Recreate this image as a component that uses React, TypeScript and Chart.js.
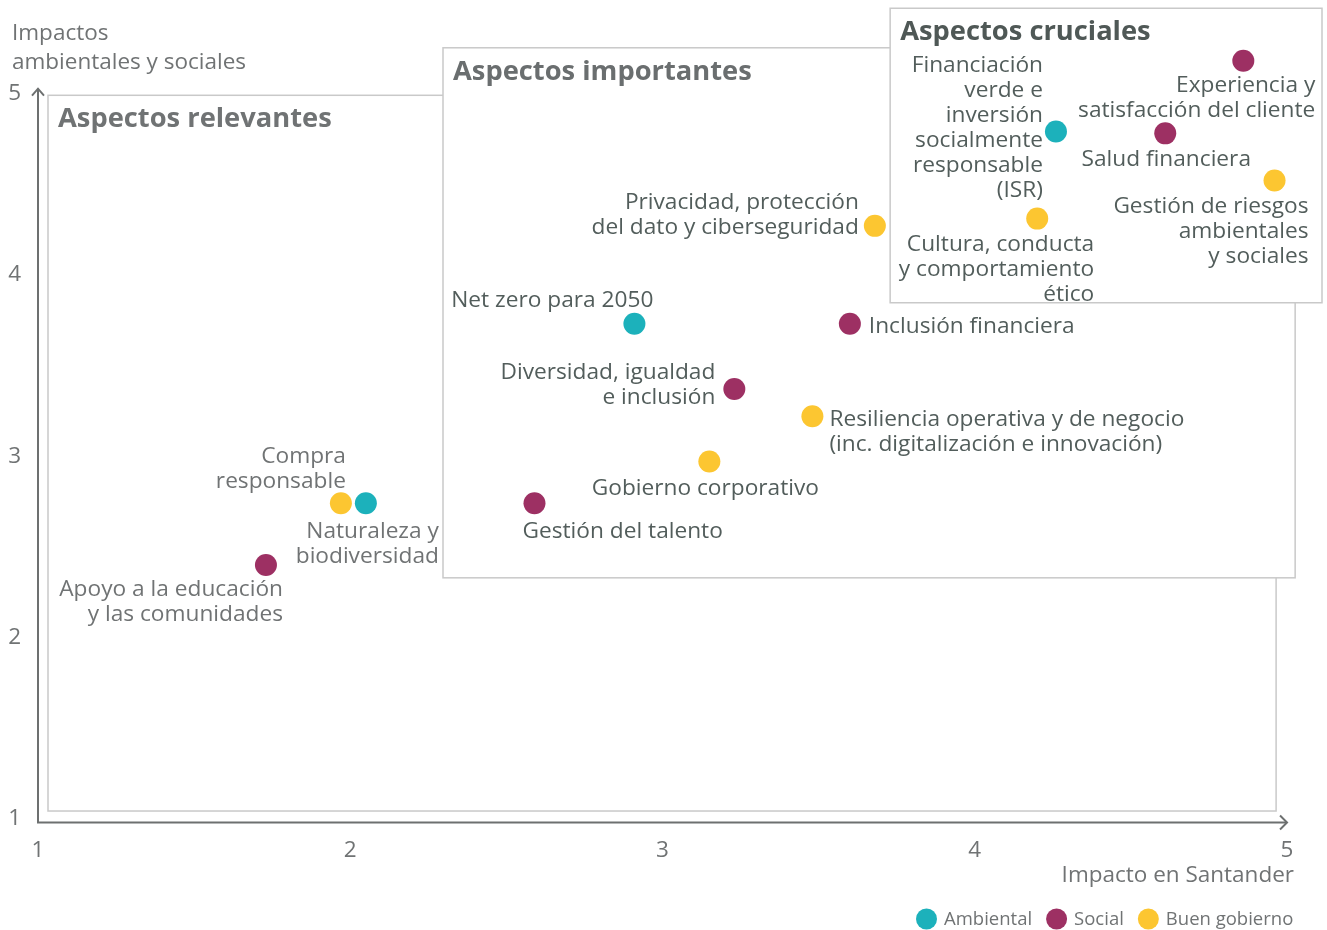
import React, { useEffect, useRef } from "react";
import { Chart, registerables } from "chart.js";

Chart.register(...registerables);

// ---------- DATA ----------
const topics: string[] = [
  "Experiencia y\nsatisfacción del cliente",
  "Salud financiera",
  "Gestión de riesgos\nambientales\ny sociales",
  "Financiación\nverde e\ninversión\nsocialmente\nresponsable\n(ISR)",
  "Cultura, conducta\ny comportamiento\nético",
  "Privacidad, protección\ndel dato y ciberseguridad",
  "Net zero para 2050",
  "Inclusión financiera",
  "Diversidad, igualdad\ne inclusión",
  "Resiliencia operativa y de negocio\n(inc. digitalización e innovación)",
  "Gobierno corporativo",
  "Gestión del talento",
  "Compra\nresponsable",
  "Naturaleza y\nbiodiversidad",
  "Apoyo a la educación\ny las comunidades",
];
const impactoSantander: number[] = [4.86, 4.61, 4.96, 4.26, 4.2, 3.68, 2.91, 3.6, 3.23, 3.48, 3.15, 2.59, 1.97, 2.05, 1.73];
const impactosAmbientalesSociales: number[] = [5.17, 4.77, 4.51, 4.78, 4.3, 4.26, 3.72, 3.72, 3.36, 3.21, 2.96, 2.73, 2.73, 2.73, 2.39];
const dimension: string[] = [
  "Social", "Social", "Buen gobierno", "Ambiental", "Buen gobierno", "Buen gobierno",
  "Ambiental", "Social", "Social", "Buen gobierno", "Buen gobierno", "Social",
  "Buen gobierno", "Ambiental", "Social",
];
const dimensions: string[] = ["Ambiental", "Social", "Buen gobierno"];
const xTicks: number[] = [1, 2, 3, 4, 5];
const yTicks: number[] = [1, 2, 3, 4, 5];
const xAxisTitle = "Impacto en Santander";
const yAxisTitle = ["Impactos", "ambientales y sociales"];

// zones: [x0, x1, y0, y1] in data units
const zoneNames: string[] = ["Aspectos relevantes", "Aspectos importantes", "Aspectos cruciales"];
const zoneX0: number[] = [1.032, 2.297, 3.729];
const zoneX1: number[] = [4.965, 5.026, 5.112];
const zoneY0: number[] = [1.033, 2.319, 3.836];
const zoneY1: number[] = [4.98, 5.242, 5.46];

// ---------- STYLE / LAYOUT ----------
const FONT = "'Open Sans', 'Noto Sans', sans-serif";
const TEXT_DY = 2;
const colors: Record<string, string> = {
  Ambiental: "#1cb1bb",
  Social: "#9d3063",
  "Buen gobierno": "#fcc631",
};
const zoneTitleColors = ["#707374", "#6a6e6f", "#4f5856"];
const LIGHT = "#707374";
const DARK = "#525d5b";
// per label: dx, dy (px of first line center), align, tone
const labelLayout: { dx: number; dy: number; align: CanvasTextAlign; dark: boolean }[] = [
  { dx: 72, dy: 23, align: "right", dark: true },
  { dx: 1, dy: 24, align: "center", dark: true },
  { dx: 34, dy: 24, align: "right", dark: true },
  { dx: -13, dy: -68, align: "right", dark: true },
  { dx: 57, dy: 24, align: "right", dark: true },
  { dx: -16, dy: -25, align: "right", dark: true },
  { dx: 19, dy: -25, align: "right", dark: true },
  { dx: 19, dy: 1, align: "left", dark: true },
  { dx: -19, dy: -19, align: "right", dark: true },
  { dx: 17, dy: 1, align: "left", dark: true },
  { dx: -4, dy: 25, align: "center", dark: true },
  { dx: -12, dy: 26, align: "left", dark: true },
  { dx: 5, dy: -49, align: "right", dark: false },
  { dx: 73, dy: 26, align: "right", dark: false },
  { dx: 17, dy: 23, align: "right", dark: false },
];

const decorPlugin = {
  id: "decor",
  beforeDatasetsDraw(chart: any) {
    const ctx: CanvasRenderingContext2D = chart.ctx;
    const xs = chart.scales.x;
    const ys = chart.scales.y;
    ctx.save();
    // zones
    for (let i = 0; i < zoneNames.length; i++) {
      const l = xs.getPixelForValue(zoneX0[i]);
      const r = xs.getPixelForValue(zoneX1[i]);
      const t = ys.getPixelForValue(zoneY1[i]);
      const b = ys.getPixelForValue(zoneY0[i]);
      ctx.fillStyle = "#ffffff";
      ctx.fillRect(l, t, r - l, b - t);
      ctx.strokeStyle = "#c9c9c9";
      ctx.lineWidth = 1.5;
      ctx.strokeRect(l, t, r - l, b - t);
      ctx.fillStyle = zoneTitleColors[i];
      ctx.font = `bold 27.3px ${FONT}`;
      ctx.textAlign = "left";
      ctx.textBaseline = "middle";
      ctx.fillText(zoneNames[i], l + 10, t + 22 + TEXT_DY);
    }
    // axes
    const ox = xs.getPixelForValue(1);
    const oy = ys.getPixelForValue(0.97);
    const xEnd = xs.getPixelForValue(5);
    const yEnd = ys.getPixelForValue(5) - 3;
    ctx.strokeStyle = "#6d7070";
    ctx.lineWidth = 2;
    ctx.beginPath();
    ctx.moveTo(ox, yEnd);
    ctx.lineTo(ox, oy);
    ctx.lineTo(xEnd, oy);
    ctx.stroke();
    ctx.beginPath();
    ctx.moveTo(ox - 6, yEnd + 7);
    ctx.lineTo(ox, yEnd);
    ctx.lineTo(ox + 6, yEnd + 7);
    ctx.moveTo(xEnd - 7, oy - 7);
    ctx.lineTo(xEnd, oy);
    ctx.lineTo(xEnd - 7, oy + 7);
    ctx.stroke();
    // ticks
    ctx.fillStyle = "#707374";
    ctx.font = `22.5px ${FONT}`;
    ctx.textBaseline = "middle";
    ctx.textAlign = "center";
    for (const v of xTicks) ctx.fillText(String(v), xs.getPixelForValue(v), oy + 26 + TEXT_DY);
    ctx.textAlign = "right";
    for (const v of yTicks) ctx.fillText(String(v), 21, ys.getPixelForValue(v) + TEXT_DY);
    // axis titles
    ctx.textAlign = "left";
    ctx.fillText(yAxisTitle[0], 12, 32 + TEXT_DY);
    ctx.fillText(yAxisTitle[1], 12, 61 + TEXT_DY);
    ctx.textAlign = "right";
    ctx.fillText(xAxisTitle, 1294, oy + 51 + TEXT_DY);
    ctx.restore();
  },
  afterDatasetsDraw(chart: any) {
    const ctx: CanvasRenderingContext2D = chart.ctx;
    const xs = chart.scales.x;
    const ys = chart.scales.y;
    ctx.save();
    ctx.font = `22.7px ${FONT}`;
    ctx.textBaseline = "middle";
    for (let i = 0; i < topics.length; i++) {
      const lay = labelLayout[i];
      const px = xs.getPixelForValue(impactoSantander[i]);
      const py = ys.getPixelForValue(impactosAmbientalesSociales[i]);
      ctx.fillStyle = lay.dark ? DARK : LIGHT;
      ctx.textAlign = lay.align;
      topics[i].split("\n").forEach((line, k) => {
        ctx.fillText(line, px + lay.dx, py + lay.dy + k * 25 + TEXT_DY);
      });
    }
    // legend
    ctx.font = `18.5px ${FONT}`;
    ctx.textAlign = "left";
    let lx = 916;
    const ly = 919;
    for (const d of dimensions) {
      ctx.fillStyle = colors[d];
      ctx.beginPath();
      ctx.arc(lx + 10.5, ly, 10.5, 0, Math.PI * 2);
      ctx.fill();
      ctx.fillStyle = LIGHT;
      ctx.fillText(d, lx + 28, ly + 1);
      lx += 28 + ctx.measureText(d).width + 14;
    }
    ctx.restore();
  },
};

export default function App() {
  const ref = useRef<HTMLCanvasElement | null>(null);
  useEffect(() => {
    if (!ref.current) return;
    const datasets = dimensions.map((d) => ({
      label: d,
      data: topics
        .map((_, i) => ({ x: impactoSantander[i], y: impactosAmbientalesSociales[i], d: dimension[i] }))
        .filter((p) => p.d === d)
        .map((p) => ({ x: p.x, y: p.y })),
      backgroundColor: colors[d],
      borderWidth: 0,
      pointRadius: 11,
      pointHoverRadius: 11,
      clip: false as any,
    }));
    const chart = new Chart(ref.current, {
      type: "scatter",
      data: { datasets },
      options: {
        responsive: false,
        animation: false,
        devicePixelRatio: 1,
        layout: { autoPadding: false, padding: { left: 38, right: 2.5, top: 1, bottom: 113 } },
        scales: {
          x: { type: "linear", min: 1, max: 5.12, display: false },
          y: { type: "linear", min: 1, max: 5.5, display: false },
        },
        plugins: { legend: { display: false }, tooltip: { enabled: false } },
      },
      plugins: [decorPlugin],
    });
    return () => chart.destroy();
  }, []);
  return (
    <div style={{ position: "absolute", left: 0, top: 0, width: 1327, height: 930, background: "#fff" }}>
      <canvas ref={ref} width={1327} height={930} style={{ display: "block" }} />
    </div>
  );
}
